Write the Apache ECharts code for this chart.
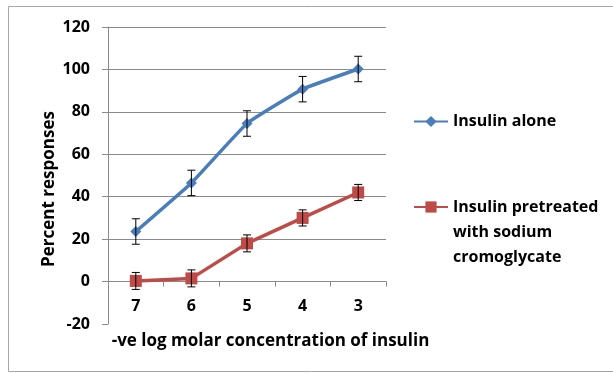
<!DOCTYPE html>
<html>
<head>
<meta charset="utf-8">
<script src="https://cdn.jsdelivr.net/npm/echarts@6/dist/echarts.min.js"></script>
<style>
  html, body { margin: 0; padding: 0; background: #fff; }
  #chart { width: 613px; height: 373px; }
</style>
</head>
<body>
<div id="chart"></div>
<script>
// 数据
const categories = ['7', '6', '5', '4', '3'];
const aloneValues = [23.6, 46.5, 74.5, 90.7, 100.2];
const aloneErrors = [6, 6, 6, 6, 6];
const pretreatedValues = [0.3, 1.5, 18, 30, 42];
const pretreatedErrors = [4, 4, 4, 3.8, 3.8];
const seriesNames = ['Insulin alone', 'Insulin pretreated with sodium cromoglycate'];

const FONT = 'Open Sans';
const Y_MIN = -20;
const Y_MAX = 120;

// 误差线
const errorBarSeries = (values, errors) => ({
  type: 'custom',
  z: 5,
  silent: true,
  data: values.map((v, i) => [i, v - errors[i], v + errors[i]]),
  renderItem: (params, api) => {
    const low = api.coord([api.value(0), api.value(1)]);
    const high = api.coord([api.value(0), api.value(2)]);
    const cap = 4;
    const style = { stroke: '#000', lineWidth: 1 };
    return {
      type: 'group',
      children: [
        { type: 'line', shape: { x1: low[0], y1: low[1], x2: high[0], y2: high[1] }, style },
        { type: 'line', shape: { x1: low[0] - cap, y1: low[1], x2: low[0] + cap, y2: low[1] }, style },
        { type: 'line', shape: { x1: high[0] - cap, y1: high[1], x2: high[0] + cap, y2: high[1] }, style },
      ],
    };
  },
});

const myChart = echarts.init(document.getElementById('chart'));

const gridColor = '#8a8a8a';
const legendText = { fontFamily: FONT, fontWeight: 'bold', fontSize: 16, color: '#000', lineHeight: 25 };

const gridTop = 27;
const gridBottom = 49;
const plotHeight = 373 - gridTop - gridBottom;
// x 轴放在 0 的位置
const zeroOffset = -plotHeight * (0 - Y_MIN) / (Y_MAX - Y_MIN);

const option = {
  animation: false,
  color: ['#4A7EBB', '#BE4B48'],
  graphic: [
    {
      type: 'rect',
      silent: true,
      z: -10,
      shape: { x: 8.5, y: 6.5, width: 700, height: 365 },
      style: { fill: 'none', stroke: '#a6a6a6', lineWidth: 1 },
    },
  ],
  legend: [
    {
      data: [seriesNames[0]],
      left: 413,
      top: 109,
      padding: 0,
      itemWidth: 34,
      itemHeight: 14,
      textStyle: legendText,
    },
    {
      data: [seriesNames[1]],
      left: 413,
      top: 144.5,
      padding: 0,
      itemWidth: 34,
      itemHeight: 14,
      // 前面两行空行，使第一行文字与图标对齐
      formatter: () => '\n\nInsulin pretreated\nwith sodium\ncromoglycate',
      textStyle: legendText,
    },
  ],
  grid: {
    left: 108,
    top: gridTop,
    right: 227,
    bottom: gridBottom,
    outerBoundsMode: 'none',
    containLabel: false,
  },
  xAxis: {
    type: 'category',
    data: categories,
    boundaryGap: true,
    position: 'bottom',
    offset: zeroOffset,
    name: '-ve log molar concentration of insulin',
    nameLocation: 'middle',
    nameGap: 51,
    nameTextStyle: {
      fontFamily: FONT,
      fontWeight: 'bold',
      fontSize: 17,
      color: '#000',
      padding: [0, 0, 0, 47],
    },
    axisLine: { onZero: false, lineStyle: { color: gridColor, width: 1 } },
    axisTick: { show: true, interval: 0, length: 5, lineStyle: { color: gridColor } },
    axisLabel: {
      interval: 0,
      margin: 17,
      fontFamily: FONT,
      fontWeight: 'bold',
      fontSize: 16,
      color: '#000',
    },
    splitLine: { show: false },
  },
  yAxis: {
    type: 'value',
    min: Y_MIN,
    max: Y_MAX,
    interval: 20,
    name: 'Percent responses',
    nameLocation: 'middle',
    nameGap: 50,
    nameTextStyle: {
      fontFamily: FONT,
      fontWeight: 'bold',
      fontSize: 17,
      color: '#000',
      padding: [0, 27, 0, 0],
    },
    axisLine: { show: true, lineStyle: { color: gridColor, width: 1 } },
    axisTick: { show: true, length: 6, lineStyle: { color: gridColor } },
    axisLabel: {
      margin: 18,
      fontFamily: FONT,
      fontWeight: 'bold',
      fontSize: 16,
      color: '#000',
    },
    splitLine: {
      show: true,
      lineStyle: {
        color: ['rgba(0,0,0,0)', gridColor, gridColor, gridColor, gridColor, gridColor, gridColor, gridColor],
        width: 1,
      },
    },
  },
  series: [
    {
      name: seriesNames[0],
      type: 'line',
      data: aloneValues,
      smooth: 0.1,
      symbol: 'diamond',
      symbolSize: 11,
      lineStyle: { width: 3.5 },
      z: 3,
    },
    {
      name: seriesNames[1],
      type: 'line',
      data: pretreatedValues,
      symbol: 'rect',
      symbolSize: 12,
      lineStyle: { width: 3.5 },
      z: 3,
    },
    errorBarSeries(aloneValues, aloneErrors),
    errorBarSeries(pretreatedValues, pretreatedErrors),
  ],
};

myChart.setOption(option);
</script>
</body>
</html>
